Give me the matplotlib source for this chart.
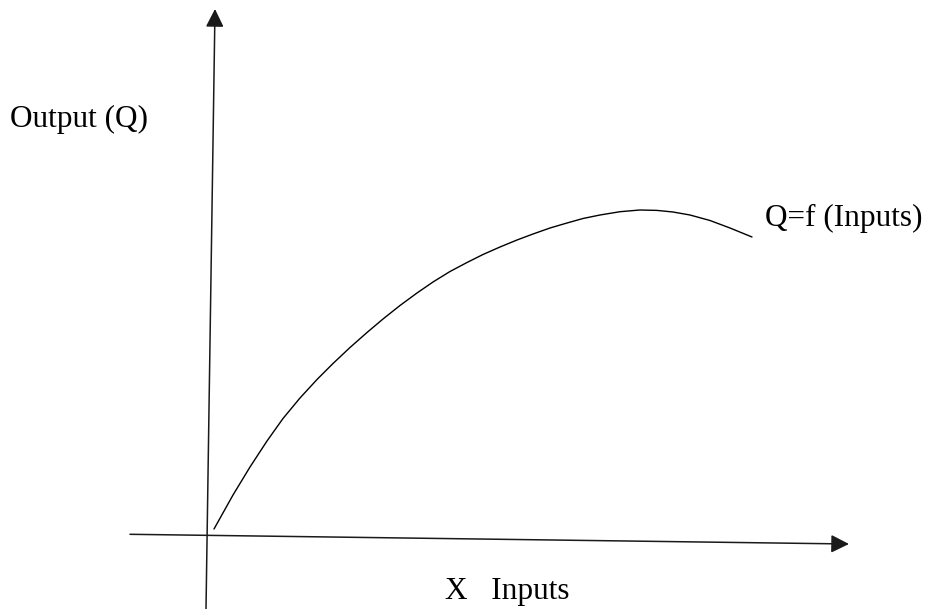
import matplotlib
matplotlib.use("Agg")
import matplotlib.pyplot as plt
from matplotlib.patches import FancyArrowPatch

# Production function Q = f(Inputs)
inputs = [7, 26, 43, 60, 76, 93, 110, 126, 143, 160, 176, 193, 210, 226, 243, 260,
          276, 293, 310, 326, 343, 360, 376, 393, 413, 433, 450, 466, 483, 503, 523, 545]
output = [6, 40, 68, 94, 116.5, 137, 155.5, 171.5, 187.5, 202.5, 216, 229.5, 242, 253, 263.5, 272.5,
          280.5, 288, 295, 301, 307, 312, 316.5, 320, 323.3, 325, 324.6, 323, 320, 314.5, 307, 298]

# hand-drawn axis lines (start, end)
y_axis_start, y_axis_end = (-1, -74), (8, 526)
x_axis_start, x_axis_end = (-77, 0.7), (642, -9)

y_label = "Output (Q)"
x_label = "X   Inputs"
curve_label = "Q=f (Inputs)"

fig = plt.figure(figsize=(9.26, 6.09), dpi=100)
ax = fig.add_axes([0, 0, 1, 1])
ax.set_xlim(-207, 719)
ax.set_ylim(-74, 535)
ax.axis("off")

axis_color = "#1a1a1a"
for s, e in [(y_axis_start, y_axis_end), (x_axis_start, x_axis_end)]:
    arr = FancyArrowPatch(s, e, arrowstyle="-|>,head_length=11,head_width=5.5",
                          mutation_scale=1, color=axis_color, lw=1.1,
                          shrinkA=0, shrinkB=0)
    ax.add_patch(arr)

ax.plot(inputs, output, color="black", lw=1.0, solid_capstyle="round",
        solid_joinstyle="round")

font = dict(family="Liberation Serif", fontsize=22.5, color="black", va="baseline", ha="left")
ax.text(-197, 408, y_label, **font)
ax.text(558, 309, curve_label, **font)
ax.text(238, -64, x_label, **font)

fig.savefig("out.png", dpi=100)
